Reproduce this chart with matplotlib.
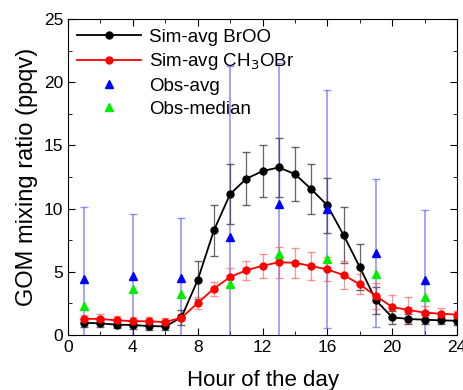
import numpy as np
import matplotlib.pyplot as plt
from matplotlib.ticker import MultipleLocator

plt.rcParams['font.family'] = ['Liberation Sans', 'DejaVu Sans']

hours = np.arange(1, 25)
broo = [0.97, 0.92, 0.82, 0.79, 0.71, 0.68, 1.4, 4.35, 8.28, 11.15, 12.37, 12.97,
        13.26, 12.74, 11.55, 10.26, 7.91, 5.38, 2.74, 1.4, 1.27, 1.21, 1.16, 1.13]
broo_err = [0.3, 0.3, 0.3, 0.3, 0.3, 0.3, 0.6, 1.5, 2.0, 2.4, 2.1, 2.05,
            2.35, 2.1, 2.0, 2.2, 2.2, 1.8, 1.05, 0.5, 0.4, 0.35, 0.3, 0.3]
ch3obr = [1.29, 1.27, 1.16, 1.1, 1.08, 1.03, 1.37, 2.53, 3.67, 4.59, 5.12, 5.48,
          5.75, 5.72, 5.46, 5.19, 4.75, 4.01, 3.09, 2.22, 1.98, 1.77, 1.69, 1.61]
ch3obr_err = [0.3, 0.4, 0.35, 0.35, 0.35, 0.35, 0.3, 0.45, 0.55, 0.75, 0.75, 0.95,
              1.2, 1.2, 1.1, 0.95, 1.1, 0.8, 1.0, 0.95, 1.0, 0.5, 0.45, 0.3]

obs_hours = [1, 4, 7, 10, 13, 16, 19, 22]
obs_avg = [4.43, 4.64, 4.48, 7.73, 10.39, 9.97, 6.51, 4.35]
obs_err = [5.67, 4.9, 4.78, 13.55, 11.1, 9.4, 5.86, 5.56]
obs_median = [2.27, 3.64, 3.24, 4.03, 6.41, 6.01, 4.83, 3.03]

fig = plt.figure(figsize=(4.63, 3.9), dpi=100)
ax = fig.add_axes([0.147, 0.141, 0.84, 0.81])

ax.errorbar(obs_hours, obs_avg, yerr=obs_err, fmt='none', ecolor=(0.3, 0.3, 1.0, 0.6),
            elinewidth=1.2, capsize=3, zorder=2)
ax.errorbar(hours, broo, yerr=broo_err, fmt='none', ecolor=(0.25, 0.25, 0.25, 0.8),
            elinewidth=0.9, capsize=3, zorder=3)
ax.errorbar(hours, ch3obr, yerr=ch3obr_err, fmt='none', ecolor=(1.0, 0.3, 0.3, 0.6),
            elinewidth=0.9, capsize=3, zorder=3)
ax.plot(hours, broo, '-o', color='black', lw=1.3, ms=5, label='Sim-avg BrOO', zorder=4)
ax.plot(hours, ch3obr, '-o', color='red', lw=1.3, ms=5,
        label='Sim-avg CH$_3$OBr', zorder=4)
ax.plot(obs_hours, obs_avg, '^', color='blue', ms=6, ls='none', label='Obs-avg', zorder=5)
ax.plot(obs_hours, obs_median, '^', color='#00ee00', ms=6, ls='none',
        label='Obs-median', zorder=5)

ax.set_xlim(0, 24)
ax.set_ylim(0, 25)
ax.xaxis.set_major_locator(MultipleLocator(4))
ax.xaxis.set_minor_locator(MultipleLocator(2))
ax.yaxis.set_major_locator(MultipleLocator(5))
ax.yaxis.set_minor_locator(MultipleLocator(2.5))
ax.tick_params(which='both', direction='in', top=True, right=True, labelsize=12.5)
ax.tick_params(which='major', length=5)
ax.tick_params(which='minor', length=3)
ax.set_xlabel('Hour of the day', fontsize=16, labelpad=11)
ax.set_ylabel('GOM mixing ratio (ppqv)', fontsize=17, labelpad=4)

ax.legend(loc='upper left', frameon=False, fontsize=13.5, handlelength=3.4,
          handletextpad=0.4, labelspacing=0.3, borderaxespad=0.1)

fig.savefig('out.png', dpi=100)
